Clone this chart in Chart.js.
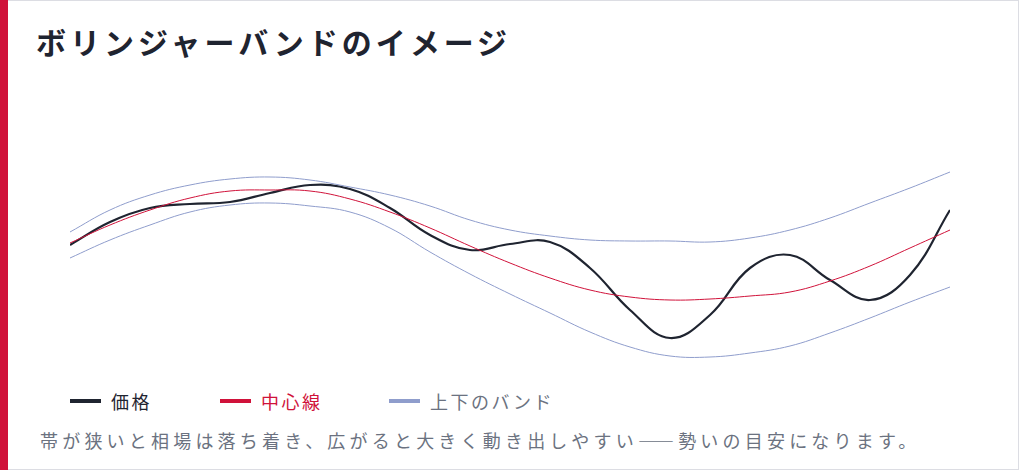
<!DOCTYPE html>
<html><head><meta charset="utf-8">
<script src="https://cdn.jsdelivr.net/npm/chart.js@4"></script>
<style>
body{margin:0;background:#fff;font-family:"Noto Sans CJK JP","Noto Sans",sans-serif;}
#card{position:absolute;left:0;top:0;width:1018px;height:468px;border:1px solid #dcdde3;border-left:none;background:#fff;}
#bar{position:absolute;left:0;top:0;width:8px;height:470px;background:#d0123a;}
#title{position:absolute;left:36px;top:19px;font-size:30px;font-weight:700;color:#1f2430;letter-spacing:4px;}
#wrap{position:absolute;left:70px;top:170px;width:880px;height:190px;}
.lg{position:absolute;top:388px;font-size:18px;display:flex;align-items:center;letter-spacing:2.5px;}
.lg span{display:inline-block;width:31px;height:4px;margin-right:10px;}
#cap{position:absolute;left:40px;top:427px;font-size:18px;color:#6b7280;letter-spacing:4.2px;}
</style></head><body>
<div id="card"></div><div id="bar"></div>
<div id="title">ボリンジャーバンドのイメージ</div>
<div id="wrap"><canvas id="c"></canvas></div>
<div class="lg" style="left:70px;color:#1f2430"><span style="background:#1f2430"></span>価格</div>
<div class="lg" style="left:220px;color:#d0123a"><span style="background:#d0123a"></span>中心線</div>
<div class="lg" style="left:389px;color:#6b7280"><span style="background:#8f9dcc"></span>上下のバンド</div>
<div id="cap">帯が狭いと相場は落ち着き、広がると大きく動き出しやすい――勢いの目安になります。</div>
<script>
const labels=[0,1,2,3,4,5,6,7,8,9,10,11,12,13,14,15,16,17,18,19,20,21,22];
const price=[245,222,208,204,202,193,185,189,208,235,250,244,242,268,310,338,315,268,255,280,300,275,210];
const middle=[243,225,210,198,191,190,191,199,212,228,246,263,278,290,297,300,299,296,292,281,266,248,230];
const upper=[232,210,195,185,179,177,180,187,195,206,220,230,236,240,241,241,242,238,230,218,203,188,172];
const lower=[258,240,225,212,205,203,206,212,228,252,274,294,313,332,347,356,357,353,346,333,318,302,287];
const neg=a=>a.map((v,i)=>({x:labels[i],y:-v}));
new Chart(document.getElementById('c'),{type:'line',
data:{datasets:[
{data:neg(upper),borderColor:'#8f9dcc',borderWidth:1,pointRadius:0,tension:0.4,clip:false},
{data:neg(lower),borderColor:'#8f9dcc',borderWidth:1,pointRadius:0,tension:0.4,clip:false},
{data:neg(middle),borderColor:'#d0123a',borderWidth:1,pointRadius:0,tension:0.4,clip:false},
{data:neg(price),borderColor:'#1f2430',borderWidth:2.2,pointRadius:0,tension:0.4,clip:false}]},
options:{responsive:true,maintainAspectRatio:false,animation:false,layout:{padding:0},
plugins:{legend:{display:false},tooltip:{enabled:false}},
scales:{x:{type:'linear',min:0,max:22,display:false},y:{min:-360,max:-170,display:false}}}});
</script></body></html>
